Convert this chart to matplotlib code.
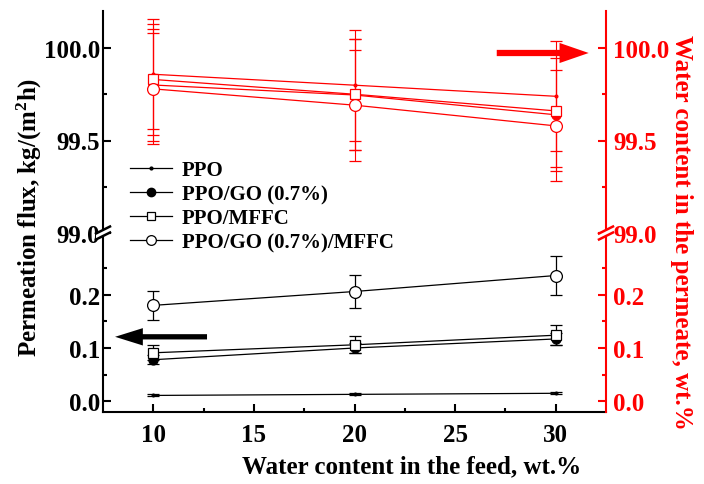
import matplotlib
matplotlib.use('Agg')
import matplotlib.pyplot as plt
from matplotlib.lines import Line2D
from matplotlib.patches import Polygon

plt.rcParams['font.family'] = ['Liberation Serif', 'DejaVu Serif']
plt.rcParams['font.weight'] = 'bold'
plt.rcParams['mathtext.fontset'] = 'custom'
plt.rcParams['mathtext.rm'] = 'Liberation Serif:bold'
plt.rcParams['mathtext.it'] = 'Liberation Serif:bold'
plt.rcParams['mathtext.bf'] = 'Liberation Serif:bold'

# ---------------- data ----------------
feed = [10, 20, 30]
labels = ['PPO', 'PPO/GO (0.7%)', 'PPO/MFFC', 'PPO/GO (0.7%)/MFFC']

# permeation flux, kg/(m2 h)  (black, lower panel)
flux_ppo = [0.011, 0.013, 0.015]
flux_ppo_err = [0.002, 0.002, 0.002]
flux_go = [0.078, 0.100, 0.117]
flux_go_err = [0.008, 0.010, 0.011]
flux_mffc = [0.091, 0.106, 0.124]
flux_mffc_err = [0.014, 0.016, 0.019]
flux_gomffc = [0.180, 0.206, 0.236]
flux_gomffc_err = [0.027, 0.031, 0.036]

# water content in permeate, wt.%  (red, upper panel)
wc_ppo = [99.858, 99.799, 99.739]
wc_ppo_err = [0.298, 0.300, 0.298]
wc_go = [99.800, 99.746, 99.639]
wc_go_err = [0.302, 0.300, 0.305]
wc_mffc = [99.830, 99.750, 99.660]
wc_mffc_err = [0.300, 0.300, 0.305]
wc_gomffc = [99.779, 99.691, 99.579]
wc_gomffc_err = [0.300, 0.300, 0.300]

xticks = [10, 15, 20, 25, 30]
yticks_low = [0.0, 0.1, 0.2]
yticks_high = [99.0, 99.5, 100.0]

# ---------------- figure ----------------
W, H = 704, 485
fig = plt.figure(figsize=(W / 100, H / 100), dpi=100)

def fx(px):
    return px / W

def fy(py):
    return 1 - py / H

L, R = 103, 606
TOP, BRK, BOT = 12, 234, 413
ax_top = fig.add_axes([fx(L), fy(BRK), (R - L) / W, (BRK - TOP) / H])
ax_bot = fig.add_axes([fx(L), fy(BOT), (R - L) / W, (BOT - BRK) / H])
ax_bot.patch.set_alpha(0)
ax_top.patch.set_alpha(0)

XLIM = (7.5, 32.5)
YLIM_LOW = (-0.0201, 0.3158)
YLIM_HIGH = (99.0, 100.2)

FS = 18
red = '#FF0000'

styles = [
    dict(marker='.', ms=4, mfc=None),
    dict(marker='o', ms=6.5, mfc=None),
    dict(marker='s', ms=6.5, mfc='white'),
    dict(marker='o', ms=8.5, mfc='white'),
]

flux_sets = [(flux_ppo, flux_ppo_err), (flux_go, flux_go_err),
             (flux_mffc, flux_mffc_err), (flux_gomffc, flux_gomffc_err)]
wc_sets = [(wc_ppo, wc_ppo_err), (wc_go, wc_go_err),
           (wc_mffc, wc_mffc_err), (wc_gomffc, wc_gomffc_err)]

for (y, e), st in zip(flux_sets, styles):
    mfc = st['mfc'] if st['mfc'] else 'black'
    ax_bot.errorbar(feed, y, yerr=e, color='black', ecolor='black', lw=0.9,
                    elinewidth=0.9, capsize=4, capthick=0.9, marker=st['marker'],
                    ms=st['ms'], mfc=mfc, mec='black', mew=0.9, zorder=3)

for (y, e), st in zip(wc_sets, styles):
    mfc = st['mfc'] if st['mfc'] else red
    ax_top.errorbar(feed, y, yerr=e, color=red, ecolor=red, lw=0.9,
                    elinewidth=0.8, capsize=4.5, capthick=0.8, marker=st['marker'],
                    ms=st['ms'], mfc=mfc, mec=red, mew=0.9, zorder=3)

# ---- axes formatting ----
for ax in (ax_top, ax_bot):
    ax.set_xlim(*XLIM)
    ax.spines['top'].set_visible(False)
    ax.spines['right'].set_visible(False)
    ax.spines['left'].set_linewidth(1.5)
    ax.spines['bottom'].set_linewidth(1.5)

ax_top.spines['bottom'].set_visible(False)
ax_top.set_ylim(*YLIM_HIGH)
ax_bot.set_ylim(*YLIM_LOW)

ax_top.set_xticks([])
ax_bot.set_xticks(xticks)
ax_bot.set_xticks([12.5, 17.5, 22.5, 27.5], minor=True)
ax_bot.set_xticklabels([str(v) for v in xticks], fontsize=FS, fontweight='bold')

ax_top.set_yticks(yticks_high)
ax_top.set_yticks([99.25, 99.75], minor=True)
ax_top.set_yticklabels(['%.1f' % v for v in yticks_high], fontsize=FS, fontweight='bold')
ax_bot.set_yticks(yticks_low)
ax_bot.set_yticks([0.05, 0.15, 0.25], minor=True)
ax_bot.set_yticklabels(['%.1f' % v for v in yticks_low], fontsize=FS, fontweight='bold')

for ax in (ax_top, ax_bot):
    ax.tick_params(which='major', direction='in', length=6, width=1.5, pad=2)
    ax.tick_params(which='minor', direction='in', length=3, width=1.5)
ax_bot.tick_params(axis='x', which='major', pad=8)

# right (red) axes
for ax, lim, maj, mnr in ((ax_top, YLIM_HIGH, yticks_high, [99.25, 99.75]),
                          (ax_bot, YLIM_LOW, yticks_low, [0.05, 0.15, 0.25])):
    tw = ax.twinx()
    tw.set_ylim(*lim)
    tw.set_yticks(maj)
    tw.set_yticks(mnr, minor=True)
    tw.set_yticklabels(['%.1f' % v for v in maj], fontsize=FS, fontweight='bold', color=red)
    for s in ('left', 'top', 'bottom'):
        tw.spines[s].set_visible(False)
    tw.spines['right'].set_color(red)
    tw.spines['right'].set_linewidth(1.5)
    tw.tick_params(which='major', direction='in', length=6, width=1.5, color=red, pad=5)
    tw.tick_params(which='minor', direction='in', length=3, width=1.5, color=red)

# ---- break marks ----
def brk(xp, yp, col):
    d = 3.0
    hw, hh = 7, 3.5
    poly = Polygon([(fx(xp - hw), fy(yp + hh - d)), (fx(xp + hw), fy(yp - hh - d)),
                    (fx(xp + hw), fy(yp - hh + d)), (fx(xp - hw), fy(yp + hh + d))],
                   closed=True, transform=fig.transFigure, fc='white', ec='none', zorder=10)
    fig.add_artist(poly)
    for off in (-d, d):
        fig.add_artist(Line2D([fx(xp - hw), fx(xp + hw)], [fy(yp + hh + off), fy(yp - hh + off)],
                              transform=fig.transFigure, color=col, lw=1.8, zorder=11))

brk(L, BRK, 'black')
brk(R, BRK, red)

# ---- arrows ----
ax_top.annotate('', xy=(31.64, 99.973), xytext=(27.07, 99.973),
                arrowprops=dict(arrowstyle='simple,head_length=2.1,head_width=1.45,tail_width=0.45',
                                mutation_scale=10, fc=red, ec=red, lw=0, shrinkA=0, shrinkB=0),
                annotation_clip=False)
ax_bot.annotate('', xy=(8.1, 0.121), xytext=(12.67, 0.121),
                arrowprops=dict(arrowstyle='simple,head_length=2.0,head_width=1.25,tail_width=0.38',
                                mutation_scale=10, fc='black', ec='black', lw=0, shrinkA=0, shrinkB=0),
                annotation_clip=False)

# ---- legend ----
handles = [
    Line2D([], [], color='black', lw=0.9, marker='.', ms=4),
    Line2D([], [], color='black', lw=0.9, marker='o', ms=6, mfc='black'),
    Line2D([], [], color='black', lw=0.9, marker='s', ms=6, mfc='white', mew=0.9),
    Line2D([], [], color='black', lw=0.9, marker='o', ms=7, mfc='white', mew=0.9),
]
fig.legend(handles, labels, loc='upper left', bbox_to_anchor=(fx(130), fy(161)),
           frameon=False, prop={'size': 15, 'weight': 'bold'}, handlelength=2.0,
           handletextpad=0.5, labelspacing=0.2, borderaxespad=0, borderpad=0)

# ---- axis labels ----
fig.text(fx(412), fy(467), 'Water content in the feed, wt.%', ha='center', va='center',
         fontsize=FS, fontweight='bold')
fig.text(fx(29), fy(217), 'Permeation flux, kg/(m$^2$h)', ha='center', va='center',
         rotation=90, fontsize=FS, fontweight='bold')
fig.text(fx(681), fy(232), 'Water content in the permeate, wt.%', ha='center', va='center',
         rotation=270, fontsize=FS, fontweight='bold', color=red)

fig.savefig('out.png', dpi=100)
